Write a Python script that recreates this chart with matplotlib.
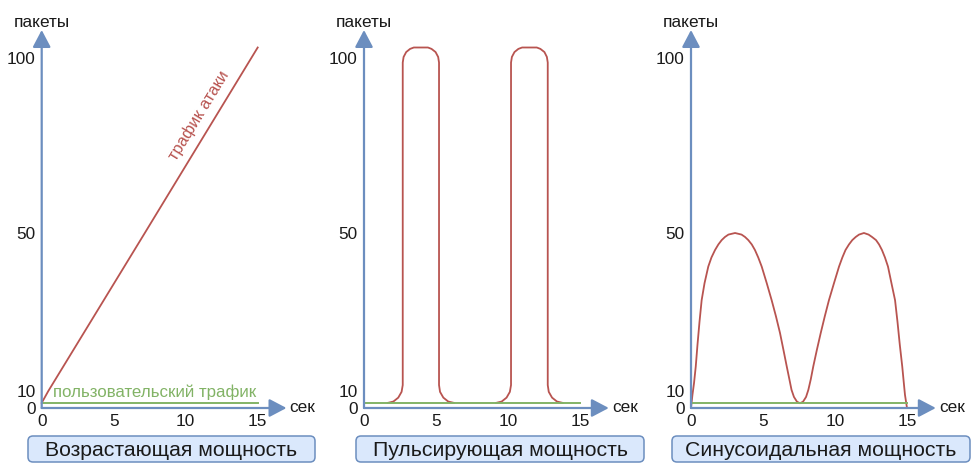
import numpy as np
import matplotlib.pyplot as plt
from matplotlib.patches import FancyBboxPatch

plt.rcParams['font.family'] = ['Liberation Sans', 'DejaVu Sans']

# --- data ---
x_ticks = [0, 5, 10, 15]
y_ticks = [0, 10, 50, 100]

# user traffic (green), same in all three panels
user_t = [0, 15]
user_v = [3, 3]

# panel 1: growing attack
ramp_t = [0, 0.46, 7.16, 15]
ramp_v = [3, 10, 50, 103]

# panel 2: two pulses (same heights, different times)
pulse_v = [3, 3.8, 6.1, 9.5, 11.5, 98.7, 100.3, 101.7, 102.6, 103,
           103, 102.6, 101.7, 100.3, 98.7, 11.5, 9.5, 6.1, 3.8, 3]
pulse1_t = [1.65, 2.04, 2.38, 2.61, 2.69, 2.69, 2.75, 2.93, 3.20, 3.46,
            4.44, 4.69, 4.97, 5.15, 5.21, 5.21, 5.28, 5.51, 5.85, 6.25]
pulse2_t = [9.17, 9.56, 9.90, 10.13, 10.21, 10.21, 10.27, 10.45, 10.72, 10.98,
            12.00, 12.25, 12.53, 12.70, 12.76, 12.76, 12.83, 13.06, 13.40, 13.80]

# panel 3: sinusoidal attack
sine_t = [0, 0.10, 0.21, 0.33, 0.45, 0.59, 0.74, 0.94, 1.20, 1.42, 1.67, 1.90, 2.13, 2.36, 2.60, 3.06,
          3.51, 3.75, 3.98, 4.22, 4.44, 4.67, 4.91, 5.26, 5.60, 5.90, 6.18, 6.42, 6.65, 6.83, 6.98, 7.15, 7.36, 7.57,
          7.78, 7.99, 8.15, 8.32, 8.49, 8.74, 9.01, 9.29, 9.58, 9.93, 10.28, 10.51, 10.73, 10.97, 11.20, 11.44, 11.67, 12.01,
          12.33, 12.57, 12.85, 13.06, 13.26, 13.47, 13.68, 13.92, 14.17, 14.34, 14.50, 14.67, 14.78, 14.86, 15]
sine_v = [0, 7.7, 12.0, 16.2, 21.7, 27.5, 33.0, 37.3, 41.5, 43.8, 45.7, 47.1, 48.2, 49.0, 49.6, 50,
          49.6, 49.0, 48.2, 47.1, 45.7, 43.8, 41.5, 37.3, 33.0, 28.9, 24.7, 20.4, 16.2, 13.0, 10.3, 6.5, 3.7, 2.8,
          3.7, 6.5, 10.3, 13.0, 16.2, 20.4, 24.7, 28.9, 33.0, 37.3, 41.5, 43.8, 45.7, 47.1, 48.2, 49.0, 49.6, 50,
          49.6, 49.0, 48.2, 47.1, 45.7, 43.8, 41.5, 37.3, 33.0, 27.5, 21.7, 16.2, 12.0, 7.7, 0]

titles = ['Возрастающая мощность', 'Пульсирующая мощность', 'Синусоидальная мощность']

# --- colours / layout ---
RED = '#b85450'
GREEN = '#82b366'
BLUE = '#6c8ebf'
FILL = '#dae8fc'
INK = '#1a1a1a'

W, H = 972, 472
base_y = 408          # pixel row of the zero line
px_per_sec = 14.4
x_end, y_end = 17, 108
panel_x0 = [41.7, 364, 691]
box_x = [28, 356, 672]
box_w = [287, 288, 298]

# the diagram's packet axis is not linear: piecewise scale from the tick spacing
scale_vals = [0, 10, 50, 100, 200]
scale_pix = [0, 17, 175, 350, 700]


def fwd(v):
    return np.interp(v, scale_vals, scale_pix)


def inv(p):
    return np.interp(p, scale_pix, scale_vals)


fig = plt.figure(figsize=(W / 100, H / 100), dpi=100)


def make_panel(x0):
    ax = fig.add_axes([x0 / W, (H - base_y) / H,
                       x_end * px_per_sec / W, fwd(y_end) / H])
    ax.set_yscale('function', functions=(fwd, inv))
    ax.set_xlim(0, x_end)
    ax.set_ylim(0, y_end)
    for s in ax.spines.values():
        s.set_visible(False)
    ax.patch.set_visible(False)
    ax.set_xticks(x_ticks)
    ax.set_yticks(y_ticks)
    ax.set_xticklabels([str(t) for t in x_ticks])
    ax.set_yticklabels([str(t) for t in y_ticks])
    ax.tick_params(length=0, labelsize=12.4, labelcolor=INK)
    ax.tick_params(axis='x', pad=4.2)
    ax.tick_params(axis='y', pad=4.5)
    arrow = dict(arrowstyle='-|>,head_length=0.95,head_width=0.5', color=BLUE,
                 lw=1.6, shrinkA=0, shrinkB=0, mutation_scale=11)
    ax.annotate('', xy=(x_end, 0), xytext=(0, 0), arrowprops=arrow, annotation_clip=False)
    ax.annotate('', xy=(0, y_end), xytext=(0, 0), arrowprops=arrow, annotation_clip=False)
    ax.annotate('пакеты', xy=(0, y_end), xytext=(0, 5.5), textcoords='offset points',
                ha='center', va='center', fontsize=12.4, color=INK, annotation_clip=False)
    ax.annotate('сек', xy=(x_end, 0), xytext=(2.2, 0), textcoords='offset points',
                ha='left', va='center', fontsize=12.4, color=INK, annotation_clip=False)
    return ax


axes = [make_panel(x0) for x0 in panel_x0]
line_kw = dict(color=RED, lw=1.3, clip_on=False, solid_joinstyle='round')

# panel 1
ax = axes[0]
ax.plot(ramp_t, ramp_v, **line_kw)
ax.plot(user_t, user_v, color=GREEN, lw=1.4, clip_on=False)
ax.text(10.9, 83.5, 'трафик атаки', color=RED, fontsize=11.8, rotation=58.6,
        rotation_mode='anchor', ha='center', va='center')
ax.annotate('пользовательский трафик', xy=(0.78, 3), xytext=(0, 2.2),
            textcoords='offset points', ha='left', va='bottom', color=GREEN, fontsize=12.2)

# panel 2
ax = axes[1]
ax.plot(pulse1_t, pulse_v, **line_kw)
ax.plot(pulse2_t, pulse_v, **line_kw)
ax.plot(user_t, user_v, color=GREEN, lw=1.4, clip_on=False)

# panel 3
ax = axes[2]
ax.plot(sine_t, sine_v, **line_kw)
ax.plot(user_t, user_v, color=GREEN, lw=1.4, clip_on=False)

# caption boxes (drawn in figure pixels)
over = fig.add_axes([0, 0, 1, 1])
over.set_xlim(0, W)
over.set_ylim(H, 0)
over.axis('off')
for bx, bw, title in zip(box_x, box_w, titles):
    over.add_patch(FancyBboxPatch((bx, 436), bw, 26, boxstyle='round,pad=0,rounding_size=5',
                                  fc=FILL, ec=BLUE, lw=1.1))
    over.text(bx + bw / 2, 450.5, title, ha='center', va='center', fontsize=15.3, color=INK)

fig.savefig('out.png', dpi=100)
